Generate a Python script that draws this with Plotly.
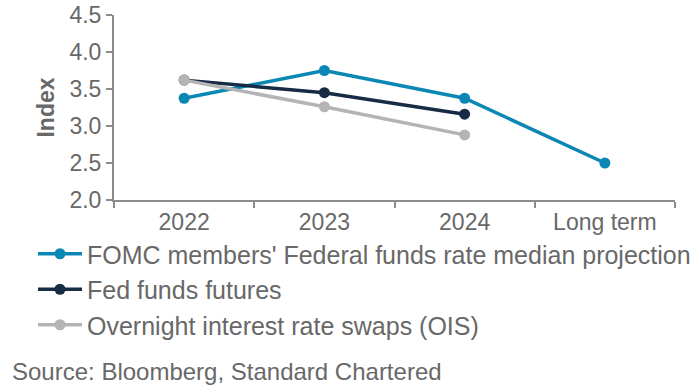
import plotly.graph_objects as go

categories = ["2022", "2023", "2024", "Long term"]
fomc = [3.375, 3.75, 3.375, 2.5]
futures = [3.62, 3.45, 3.16, None]
ois = [3.62, 3.26, 2.88, None]

names = ["FOMC members' Federal funds rate median projection",
         "Fed funds futures",
         "Overnight interest rate swaps (OIS)"]
colors = ["#0A87B4", "#172B45", "#B4B4B6"]

fig = go.Figure()
for name, vals, col in zip(names, [fomc, futures, ois], colors):
    fig.add_trace(go.Scatter(x=categories, y=vals, name=name, mode="lines+markers",
                             line=dict(color=col, width=3.5),
                             marker=dict(color=col, size=11),
                             connectgaps=False))

font_family = "Liberation Sans, Arial, sans-serif"
txt = "#686868"
W, H = 699, 392
L, R, T, B = 114, 24, 15, 192
pw, ph = W - L - R, H - T - B
fig.update_layout(
    width=W, height=H,
    margin=dict(l=L, r=R, t=T, b=B, autoexpand=False),
    plot_bgcolor="white", paper_bgcolor="white",
    font=dict(family=font_family, color=txt, size=23),
    showlegend=True,
    legend=dict(x=(33 - L) / pw, y=(H - B - 231) / ph,
                xanchor="left", yanchor="top",
                font=dict(size=25, color=txt), bgcolor="rgba(0,0,0,0)",
                tracegroupgap=0, itemwidth=44),
    xaxis=dict(type="category", range=[-0.5, 3.5], showline=True,
               linecolor="#8C8C8C", linewidth=2, ticks="outside",
               tickson="boundaries", ticklen=6, tickcolor="#8C8C8C",
               tickwidth=2, showgrid=False, ticklabeloverflow="allow",
               tickfont=dict(size=23, color=txt)),
    yaxis=dict(range=[2, 4.5], dtick=0.5, tickformat=".1f", showline=True,
               linecolor="#8C8C8C", linewidth=2, ticks="outside", ticklen=6,
               tickcolor="#8C8C8C", tickwidth=2, showgrid=False, zeroline=False,
               ticklabeloverflow="allow",
               tickfont=dict(size=23, color=txt),
               title=dict(text="<b>Index</b>", font=dict(size=23, color=txt),
                          standoff=8)),
)
fig.add_annotation(text="Source: Bloomberg, Standard Chartered", xref="paper", yref="paper",
                   x=(10 - L) / pw, y=(H - B - 371) / ph, xanchor="left", yanchor="middle",
                   showarrow=False, font=dict(size=24, color=txt))
fig.write_html("out.html", config={"displayModeBar": False},
               post_script="document.body.style.margin='0';document.body.style.overflow='hidden';")
